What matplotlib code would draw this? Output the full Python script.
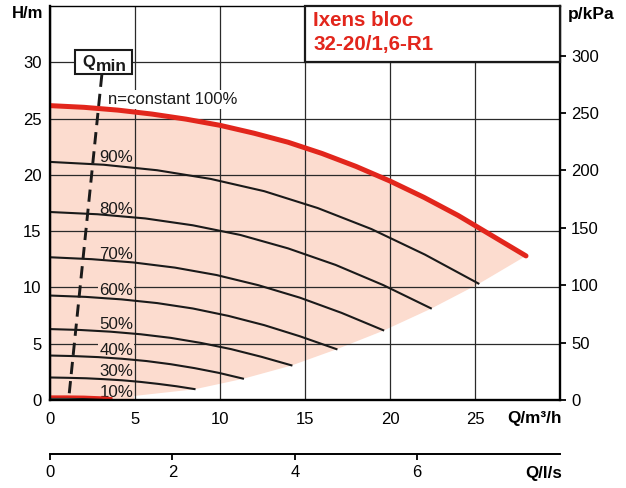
import numpy as np
import matplotlib
matplotlib.use('Agg')
import matplotlib.pyplot as plt
from matplotlib.patches import Rectangle

plt.rcParams['font.family'] = 'Liberation Sans'

red = '#e2261c'
pink = '#fcdccf'
ink = '#1a1a1a'

# pump curve at full speed (n = constant 100%)
q100 = [0, 2, 4, 6, 8, 10, 12, 14, 16, 18, 20, 22, 24, 26, 28]
h100 = [26.15, 26.0, 25.75, 25.4, 24.95, 24.4, 23.7, 22.9, 21.9, 20.75, 19.45, 18.0, 16.4, 14.6, 12.8]

# reduced speed curves
q90 = [0, 3.15, 6.3, 9.45, 12.6, 15.75, 18.9, 22.05, 25.2]
h90 = [21.15, 20.9, 20.41, 19.64, 18.55, 17.05, 15.19, 12.92, 10.35]
q80 = [0, 2.8, 5.6, 8.4, 11.2, 14.0, 16.8, 19.6, 22.4]
h80 = [16.7, 16.5, 16.13, 15.52, 14.66, 13.47, 12.0, 10.21, 8.15]
q70 = [0, 2.45, 4.9, 7.35, 9.8, 12.25, 14.7, 17.15, 19.6]
h70 = [12.68, 12.51, 12.22, 11.76, 11.1, 10.2, 9.09, 7.74, 6.2]
q60 = [0, 2.1, 4.2, 6.3, 8.4, 10.5, 12.6, 14.7, 16.85]
h60 = [9.28, 9.16, 8.94, 8.61, 8.13, 7.47, 6.65, 5.66, 4.52]
q50 = [0, 1.78, 3.55, 5.33, 7.1, 8.88, 10.65, 12.43, 14.2]
h50 = [6.3, 6.22, 6.07, 5.84, 5.52, 5.07, 4.52, 3.84, 3.08]
q40 = [0, 1.42, 2.84, 4.26, 5.68, 7.1, 8.51, 9.93, 11.35]
h40 = [3.95, 3.9, 3.81, 3.66, 3.46, 3.18, 2.83, 2.41, 1.9]
q30 = [0, 1.06, 2.12, 3.19, 4.25, 5.31, 6.37, 7.44, 8.5]
h30 = [2.0, 1.97, 1.93, 1.85, 1.75, 1.61, 1.43, 1.22, 0.97]
q10 = [0, 1.0, 2.0, 3.0, 3.6]
h10 = [0.2, 0.2, 0.18, 0.12, 0.05]

speed_labels = ['90%', '80%', '70%', '60%', '50%', '40%', '30%', '10%']
label_h = [21.15, 16.5, 12.5, 9.3, 6.3, 4.0, 2.1, 0.3]

# lower limit of the operating range
q_low = [0, 4, 8.5, 11.35, 14.2, 16.85, 19.6, 22.4, 25.2, 28]
h_low = [0, 0.2, 0.95, 1.88, 3.06, 4.5, 6.15, 8.1, 10.3, 12.8]

# Qmin line
qmin_q = [3.05, 1.12]
qmin_h = [28.9, 0.4]

fig = plt.figure(figsize=(6.26, 4.88), dpi=100)
ax = fig.add_axes([50/626, 1-400/488, 510/626, 394/488])
ax.set_xlim(0, 30)
ax.set_ylim(0, 35)

# operating range
ax.fill(q100 + q_low[::-1], h100 + h_low[::-1], color=pink, lw=0, zorder=1)

ax.set_xticks(np.arange(0, 30, 5))
ax.set_yticks(np.arange(0, 31, 5))
ax.grid(True, color='#2a2a2a', lw=0.9)
ax.set_axisbelow('line')
ax.tick_params(axis='both', length=0, labelsize=12)
ax.tick_params(axis='x', pad=9)
ax.tick_params(axis='y', pad=6)

for sp in ['left', 'bottom', 'right']:
    ax.spines[sp].set_linewidth(1.7)
ax.spines['top'].set_linewidth(1.0)

curves = [(q90, h90), (q80, h80), (q70, h70), (q60, h60),
          (q50, h50), (q40, h40), (q30, h30)]
for qq, hh in curves:
    ax.plot(qq, hh, color=ink, lw=1.5, zorder=2)
ax.plot(q10, h10, color=ink, lw=1.5, zorder=2)
ax.plot(q10, [h + 0.1 for h in h10], color=red, lw=1.8, zorder=2.1)
ax.plot(q100, h100, color=red, lw=3.6, solid_capstyle='round', zorder=2.2)

for lab, hy in zip(speed_labels, label_h):
    ax.text(2.9, hy, lab, fontsize=12.2, ha='left', va='baseline', color=ink,
            zorder=1.8, bbox=dict(boxstyle='square,pad=0.05', fc=pink, ec='none'))

ax.text(3.4, 26.3, 'n=constant 100%', fontsize=12, ha='left', va='baseline', color=ink,
        zorder=1.8, bbox=dict(boxstyle='square,pad=0.1', fc='white', ec='none'))

ax.plot(qmin_q, qmin_h, color=ink, lw=2.1, linestyle=(0, (4.2, 2.4)), zorder=2.5)
ax.add_patch(Rectangle((1.47, 28.93), 3.34, 2.15, fc='white', ec=ink, lw=1.5, zorder=3))
ax.text(1.92, 29.6, 'Q', fontsize=12, fontweight='bold', ha='left', va='baseline',
        color=ink, zorder=4)
ax.text(2.68, 29.24, 'min', fontsize=12.5, fontweight='bold', ha='left', va='baseline',
        color=ink, zorder=4)

# type plate
ax.add_patch(Rectangle((15, 30), 15, 5, fc='white', ec=ink, lw=1.6, zorder=3,
                       clip_on=False))
ax.text(15.49, 33.25, 'Ixens bloc', color=red, fontsize=14.8, fontweight='bold',
        ha='left', va='baseline', zorder=4)
ax.text(15.49, 31.08, '32-20/1,6-R1', color=red, fontsize=14.8, fontweight='bold',
        ha='left', va='baseline', zorder=4)

# pressure scale
ax2 = ax.twinx()
ax2.set_ylim(0, 35 * 9.81)
ax2.set_yticks(np.arange(0, 301, 50))
ax2.tick_params(axis='y', direction='out', length=4, width=1.3, labelsize=12, pad=4)
for sp in ax2.spines.values():
    sp.set_visible(False)

# flow in l/s
sec = ax.secondary_xaxis(-0.137, functions=(lambda x: x / 3.6, lambda x: x * 3.6))
sec.set_xticks([0, 2, 4, 6])
sec.tick_params(axis='x', direction='out', length=4, width=1.3, labelsize=12, pad=4)
sec.spines['bottom'].set_linewidth(1.4)

ax.text(1.003, -0.048, 'Q/m³/h', transform=ax.transAxes, ha='right', va='center',
        fontsize=12.3, fontweight='bold')
ax.text(1.005, -0.186, 'Q/l/s', transform=ax.transAxes, ha='right', va='center',
        fontsize=12.2, fontweight='bold')
fig.text(12/626, 1-14/488, 'H/m', ha='left', va='center', fontsize=12, fontweight='bold')
fig.text(568/626, 1-14/488, 'p/kPa', ha='left', va='center', fontsize=12.5, fontweight='bold')

fig.savefig('out.png', dpi=100)
